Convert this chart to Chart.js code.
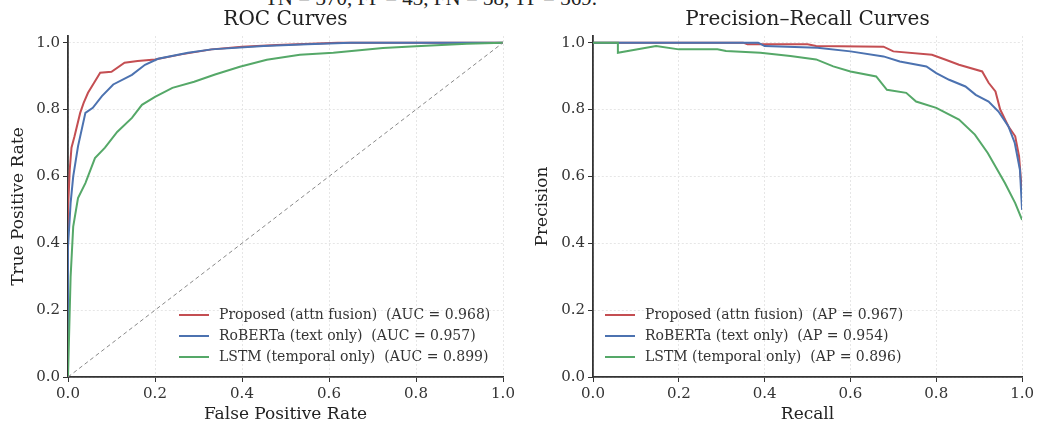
<!DOCTYPE html>
<html>
<head>
<meta charset="utf-8">
<script src="https://cdn.jsdelivr.net/npm/chart.js@4/dist/chart.umd.min.js"></script>
<style>
  body { margin: 0; background: #fff; width: 1037px; height: 425px; overflow: hidden; position: relative; }
  .box { position: absolute; top: 0; height: 425px; }
  #cm { position: absolute; left: 0; width: 862px; top: -14px; line-height: 24px; text-align: center;
        font-family: "Liberation Serif", serif; font-size: 21px; color: #222; }
</style>
</head>
<body>
<div id="cm">TN = 370, FP = 43, FN = 38, TP = 369.</div>
<div class="box" style="left:0;width:520px"><canvas id="roc"></canvas></div>
<div class="box" style="left:520px;width:517px"><canvas id="pr"></canvas></div>
<script>
// ROC curves (false positive rate / true positive rate)
const rocPropFpr = [0, 0, 0.004, 0.008, 0.015, 0.028, 0.036, 0.046, 0.06, 0.074, 0.10, 0.13, 0.16, 0.20, 0.26, 0.33, 0.40, 0.48, 0.62, 0.80, 1.0];
const rocPropTpr = [0, 0.50, 0.62, 0.686, 0.72, 0.79, 0.82, 0.85, 0.88, 0.91, 0.913, 0.94, 0.945, 0.95, 0.965, 0.98, 0.988, 0.993, 1.0, 1.0, 1.0];
const rocBertFpr = [0, 0, 0.006, 0.012, 0.023, 0.04, 0.057, 0.078, 0.104, 0.147, 0.177, 0.207, 0.276, 0.33, 0.45, 0.55, 0.65, 1.0];
const rocBertTpr = [0, 0.39, 0.52, 0.60, 0.69, 0.79, 0.805, 0.84, 0.875, 0.904, 0.934, 0.952, 0.97, 0.98, 0.99, 0.995, 1.0, 1.0];
const rocLstmFpr = [0, 0.003, 0.006, 0.012, 0.023, 0.04, 0.062, 0.085, 0.113, 0.147, 0.17, 0.20, 0.24, 0.29, 0.338, 0.395, 0.457, 0.533, 0.61, 0.724, 0.80, 0.917, 1.0];
const rocLstmTpr = [0, 0.15, 0.30, 0.45, 0.535, 0.58, 0.655, 0.686, 0.733, 0.775, 0.814, 0.838, 0.865, 0.883, 0.905, 0.928, 0.949, 0.964, 0.97, 0.984, 0.989, 0.997, 1.0];
const chanceX = [0, 1];
const chanceY = [0, 1];

// Precision-recall curves
const prPropRec = [0, 0.35, 0.36, 0.50, 0.52, 0.677, 0.70, 0.79, 0.822, 0.853, 0.907, 0.922, 0.938, 0.949, 0.968, 0.984, 0.993, 0.998, 1.0];
const prPropPre = [1.0, 1.0, 0.995, 0.995, 0.99, 0.988, 0.974, 0.964, 0.949, 0.934, 0.914, 0.88, 0.854, 0.80, 0.75, 0.72, 0.66, 0.58, 0.56];
const prBertRec = [0, 0.385, 0.40, 0.523, 0.60, 0.677, 0.715, 0.777, 0.80, 0.83, 0.868, 0.892, 0.922, 0.945, 0.968, 0.983, 0.995, 1.0];
const prBertPre = [1.0, 1.0, 0.99, 0.985, 0.974, 0.959, 0.944, 0.929, 0.909, 0.889, 0.869, 0.844, 0.824, 0.794, 0.75, 0.70, 0.62, 0.50];
const prLstmRec = [0, 0.058, 0.058, 0.147, 0.20, 0.29, 0.31, 0.39, 0.46, 0.52, 0.56, 0.60, 0.66, 0.685, 0.73, 0.753, 0.80, 0.853, 0.89, 0.92, 0.96, 0.984, 1.0];
const prLstmPre = [1.0, 1.0, 0.97, 0.99, 0.98, 0.98, 0.975, 0.97, 0.96, 0.95, 0.929, 0.914, 0.899, 0.859, 0.85, 0.824, 0.805, 0.77, 0.725, 0.67, 0.58, 0.52, 0.47];

const rocLabels = ['Proposed (attn fusion)  (AUC = 0.968)', 'RoBERTa (text only)  (AUC = 0.957)', 'LSTM (temporal only)  (AUC = 0.899)'];
const prLabels = ['Proposed (attn fusion)  (AP = 0.967)', 'RoBERTa (text only)  (AP = 0.954)', 'LSTM (temporal only)  (AP = 0.896)'];
const colors = ['#c44e52', '#4c72b0', '#55a868'];
const tickVals = [0, 0.2, 0.4, 0.6, 0.8, 1.0];

const SERIF = '"DejaVu Serif", serif';

function pts(xs, ys) {
    return xs.map((x, i) => ({ x: x, y: ys[i] }));
}

function curve(xs, ys, i, label) {
    return {
        label: label,
        data: pts(xs, ys),
        showLine: true,
        borderColor: colors[i],
        borderWidth: 2,
        pointRadius: 0,
        fill: false,
        tension: 0,
        order: 3 - i
    };
}

// draws the title and the legend box inside the plot
const extras = {
    id: 'extras',
    afterDraw(chart, args, opts) {
        const ctx = chart.ctx;
        const a = chart.chartArea;
        ctx.save();
        ctx.fillStyle = '#222';
        ctx.font = '20px ' + SERIF;
        ctx.textAlign = 'center';
        ctx.textBaseline = 'middle';
        ctx.fillText(opts.title, (a.left + a.right) / 2, 20);

        ctx.font = '14px ' + SERIF;
        ctx.textAlign = 'left';
        opts.labels.forEach((t, i) => {
            const y = opts.legendY + i * 21;
            ctx.strokeStyle = colors[i];
            ctx.lineWidth = 2;
            ctx.beginPath();
            ctx.moveTo(opts.legendX, y);
            ctx.lineTo(opts.legendX + 30, y);
            ctx.stroke();
            ctx.fillStyle = '#333';
            ctx.fillText(t, opts.legendX + 40, y);
        });
        ctx.restore();
    }
};

function axis(title, isY, width, titlePad) {
    return {
        type: 'linear',
        min: 0,
        max: isY ? 1.02 : 1.0,
        afterBuildTicks: s => { s.ticks = tickVals.map(v => ({ value: v })); },
        afterFit: s => { if (isY) s.width = width; else s.height = 48; },
        grid: { color: '#e6e6e6', tickColor: '#333', tickLength: 5, lineWidth: 1 },
        border: { display: true, color: '#333', width: 1.8, dash: [2, 2] },
        ticks: { color: '#333', font: { family: SERIF, size: 15 }, padding: 3,
                 callback: v => v.toFixed(1), maxRotation: 0 },
        title: { display: true, text: title, color: '#222', font: { family: SERIF, size: 17 },
                 padding: isY ? { top: titlePad, bottom: 4 } : { top: 0, bottom: 0 } }
    };
}

function makeChart(id, datasets, xTitle, yTitle, yWidth, titlePad, padRight, extraOpts) {
    return new Chart(document.getElementById(id), {
        type: 'scatter',
        data: { datasets: datasets },
        options: {
            responsive: false,
            animation: false,
            layout: { padding: { top: 36, right: padRight, left: 0, bottom: 0 } },
            scales: { x: axis(xTitle, false), y: axis(yTitle, true, yWidth, titlePad) },
            plugins: { legend: { display: false }, tooltip: { enabled: false }, extras: extraOpts }
        },
        plugins: [extras]
    });
}

const rocCanvas = document.getElementById('roc');
rocCanvas.width = 520; rocCanvas.height = 425;
const prCanvas = document.getElementById('pr');
prCanvas.width = 517; prCanvas.height = 425;

makeChart('roc', [
    curve(rocPropFpr, rocPropTpr, 0, rocLabels[0]),
    curve(rocBertFpr, rocBertTpr, 1, rocLabels[1]),
    curve(rocLstmFpr, rocLstmTpr, 2, rocLabels[2]),
    { label: 'chance', data: pts(chanceX, chanceY), showLine: true, borderColor: '#888',
      borderWidth: 1, borderDash: [4, 3], pointRadius: 0, order: 0 }
], 'False Positive Rate', 'True Positive Rate', 68, 8, 17,
   { title: 'ROC Curves', labels: rocLabels, legendX: 179, legendY: 315 });

makeChart('pr', [
    curve(prPropRec, prPropPre, 0, prLabels[0]),
    curve(prBertRec, prBertPre, 1, prLabels[1]),
    curve(prLstmRec, prLstmPre, 2, prLabels[2])
], 'Recall', 'Precision', 73, 12, 7,
   { title: 'Precision\u2013Recall Curves', labels: prLabels, legendX: 85, legendY: 315 });
</script>
</body>
</html>
